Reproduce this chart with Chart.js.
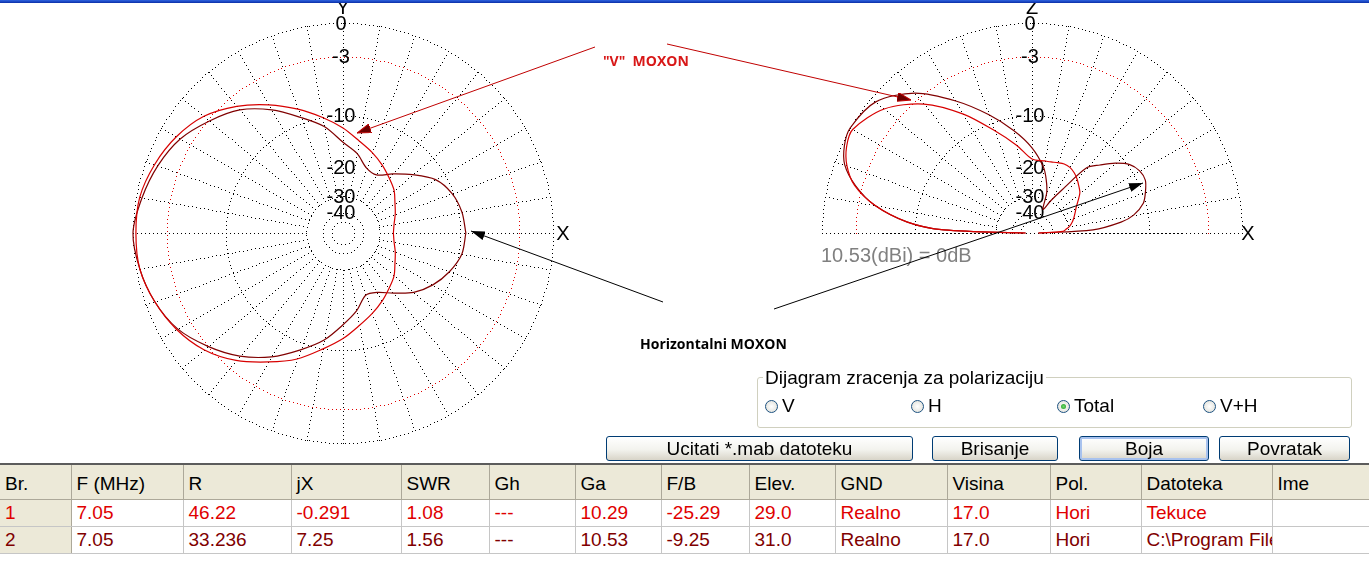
<!DOCTYPE html>
<html>
<head>
<meta charset="utf-8">
<title>Dijagram zracenja - MOXON</title>
<script src="https://cdn.jsdelivr.net/npm/chart.js@4.4.1/dist/chart.umd.min.js"></script>
<style>
  body { margin: 0; width: 1369px; height: 562px; overflow: hidden; background: #fff; position: relative;
         font-family: "Liberation Sans", Arial, sans-serif; }
  #topbar { position: absolute; left: 0; top: 0; width: 1369px; height: 3px; z-index: 10;
            background: linear-gradient(#2f64e0, #0a2fa8); }
  .polar { position: absolute; top: 0; width: 520px; height: 460px; }
  #azWrap { left: 83px; }
  #elWrap { left: 772px; }
  #notes { position: absolute; left: 0; top: 0; width: 1369px; height: 460px; z-index: 5; pointer-events: none; }
  #group { position: absolute; left: 757px; top: 377px; width: 595px; height: 51px; box-sizing: border-box;
           border: 1px solid #d0d0bf; border-radius: 3px; }
  #groupTitle { position: absolute; left: 763px; top: 367px; padding: 0 2px; background: #fff; font-size: 19px; line-height: 22px; }
  .radio { position: absolute; top: 396px; height: 20px; font-size: 19px; line-height: 20px; white-space: nowrap; }
  .radio i { display: inline-block; width: 11px; height: 11px; border: 1px solid #1c5180; border-radius: 50%;
             background: radial-gradient(#ffffff, #dcdcd4); vertical-align: -1px; margin-right: 4px; position: relative; }
  .radio i.on::after { content: ""; position: absolute; left: 3px; top: 3px; width: 5px; height: 5px; border-radius: 50%;
             background: radial-gradient(#6fd86f, #1d9a1d); }
  .btn { position: absolute; top: 436px; height: 25px; box-sizing: border-box; border: 1px solid #003c74; border-radius: 3px;
         background: linear-gradient(#ffffff, #f3f3ee 55%, #d8d4c8); font-size: 19px; line-height: 23px; text-align: center; }
  .btn.focus { box-shadow: inset 0 0 0 2px #a8c2ee; }
  #tbl { position: absolute; left: 0; top: 463px; width: 1369px; border-top: 2px solid #5c5c5c; }
  table { border-collapse: collapse; table-layout: fixed; width: 1369px; font-size: 19px; }
  th { height: 30px; padding: 4px 0 0 5px; background: #ece9d8; font-weight: normal; text-align: left;
       border-right: 1px solid #aca899; border-bottom: 1px solid #aca899; }
  td { height: 26px; padding: 0 0 0 5px; border-right: 1px solid #c6c6c6; border-bottom: 1px solid #c6c6c6;
       white-space: nowrap; overflow: hidden; }
  td.rh { background: #ece9d8; border-right: 1px solid #aca899; }
  tr.r1 td { color: #e00000; }
  tr.r2 td { color: #800000; }
</style>
</head>
<body>
<div id="topbar"></div>
<div class="polar" id="azWrap"><canvas id="azChart" width="520" height="460"></canvas></div>
<div class="polar" id="elWrap"><canvas id="elChart" width="520" height="460"></canvas></div>

<svg id="notes" xmlns="http://www.w3.org/2000/svg">
  <defs>
    <marker id="headRed" markerUnits="userSpaceOnUse" markerWidth="14" markerHeight="9" refX="14" refY="4.5" orient="auto">
      <path d="M0,0 L14,4.5 L0,9 z" fill="#6a0000" stroke="#c00000" stroke-width="1"/>
    </marker>
    <marker id="headBlack" markerUnits="userSpaceOnUse" markerWidth="14" markerHeight="9" refX="14" refY="4.5" orient="auto">
      <path d="M0,0 L14,4.5 L0,9 z" fill="#000"/>
    </marker>
  </defs>
  <line x1="595" y1="47" x2="357" y2="133" stroke="#c00000" stroke-width="1" marker-end="url(#headRed)"/>
  <line x1="667" y1="44" x2="911" y2="100" stroke="#c00000" stroke-width="1" marker-end="url(#headRed)"/>
  <line x1="663" y1="302" x2="471" y2="231" stroke="#000" stroke-width="1" marker-end="url(#headBlack)"/>
  <line x1="774" y1="309" x2="1143" y2="183" stroke="#000" stroke-width="1" marker-end="url(#headBlack)"/>
  <text x="603" y="66" font-family="Open Sans, Lato, sans-serif" font-weight="bold" font-size="14" fill="#d81818" xml:space="preserve">"V"  MOXON</text>
  <text x="640" y="349" font-family="Open Sans, Lato, sans-serif" font-weight="bold" font-size="14" fill="#000">Horizontalni MOXON</text>
</svg>

<div id="group"></div>
<div id="groupTitle">Dijagram zracenja za polarizaciju</div>
<div class="radio" style="left:765px"><i></i>V</div>
<div class="radio" style="left:911px"><i></i>H</div>
<div class="radio" style="left:1057px"><i class="on"></i>Total</div>
<div class="radio" style="left:1203px"><i></i>V+H</div>

<div class="btn" style="left:606px;width:307px">Ucitati *.mab datoteku</div>
<div class="btn" style="left:932px;width:126px">Brisanje</div>
<div class="btn focus" style="left:1079px;width:130px">Boja</div>
<div class="btn" style="left:1219px;width:131px">Povratak</div>

<div id="tbl"></div>

<script>
// ---- data (dB relative to 10.53 dBi) ----
// azimuth angle, degrees counter-clockwise from +X
const azAngles = [0, 10, 20, 30, 40, 50, 60, 70, 80, 90, 100, 110, 120, 130, 140, 150, 160, 170,
                  180, 190, 200, 210, 220, 230, 240, 250, 260, 270, 280, 290, 300, 310, 320, 330, 340, 350];
const azVMoxon = [-24.5, -24.0, -22.8, -21.5, -19.7, -18.4, -16.9, -15.4, -13.9, -11.9, -10.0, -8.0, -6.0, -4.1, -2.5, -1.5, -0.8, -0.3,
                  -0.24, -0.3, -0.8, -1.5, -2.5, -4.0, -5.9, -7.7, -9.9, -11.8, -13.8, -15.4, -16.9, -18.4, -19.7, -21.5, -22.8, -24.0];
const azHorizMoxon = [-9.2, -9.5, -10.2, -11.6, -14.4, -17.2, -19.6, -19.1, -16.4, -14.4, -11.4, -9.2, -6.7, -4.6, -3.2, -1.9, -1.1, -0.5,
                      0, -0.3, -0.8, -1.6, -3.0, -4.6, -6.6, -9.0, -11.3, -14.2, -16.8, -19.8, -19.2, -16.9, -14.1, -12.1, -10.6, -9.5];

// elevation angle, degrees from the +X horizon over the top to the -X horizon
const elAngles = [0, 3, 7, 10, 15, 20, 25, 30, 35, 40, 45, 50, 55, 60, 65, 70, 75, 80,
                  90, 100, 110, 120, 130, 140, 150, 155, 160, 165, 170, 175, 178, 180];
const elVMoxon = [-60, -32.7, -30.8, -29.3, -27.8, -26.6, -25.5, -24.3, -22.6, -20.8, -19.8, -18.8, -18.0, -17.5, -17.4, -17.7, -18.0, -18.1,
                  -17.9, -14.7, -11.3, -7.3, -3.8, -1.45, -0.24, -0.45, -1.1, -2.3, -4.7, -8.9, -14.9, -60];
const elHorizMoxon = [-60, -21.2, -14.6, -12.2, -10.3, -9.5, -8.9, -9.0, -9.7, -11.3, -13.4, -15.5, -23.6, -29.8, -35.8, -27.2, -23.0, -19.7,
                      -15.5, -12.1, -8.8, -5.5, -2.4, -0.5, 0, -0.25, -0.9, -2.4, -4.7, -8.9, -14.9, -60];

const ringLevels = [0, -3, -10, -30, -40, -50];
const ringLabels = [0, -3, -10, -20, -30, -40];
const zeroRef = '10.53(dBi) = 0dB';

const tableHeaders = ['Br.', 'F (MHz)', 'R', 'jX', 'SWR', 'Gh', 'Ga', 'F/B', 'Elev.', 'GND', 'Visina', 'Pol.', 'Datoteka', 'Ime'];
const row1 = ['1', '7.05', '46.22', '-0.291', '1.08', '---', '10.29', '-25.29', '29.0', 'Realno', '17.0', 'Hori', 'Tekuce', ''];
const row2 = ['2', '7.05', '33.236', '7.25', '1.56', '---', '10.53', '-9.25', '31.0', 'Realno', '17.0', 'Hori', 'C:\\Program Files', ''];

const RED = '#d80000';
const DARK = '#800000';

// ---- layout ----
const R_PX = 210;             // 0 dB circle radius
const CX = 260, CY = 233;     // plot centre inside each canvas
const DOT_GAP = 4;            // GDI style dotted grid
const colWidths = [71, 112, 108, 110, 88, 86, 86, 88, 86, 112, 103, 91, 131, 97];

// ARRL log scale
function dbToRadius(db) {
  return Math.pow(0.89, -db / 2);
}

function toXY(angles, gains) {
  return angles.map((a, i) => {
    const r = dbToRadius(gains[i]);
    const t = a * Math.PI / 180;
    return { x: r * Math.cos(t), y: r * Math.sin(t) };
  });
}

// single pixel dots, like the old windows dotted pen
function dotLine(ctx, x1, y1, x2, y2) {
  const len = Math.hypot(x2 - x1, y2 - y1);
  const n = Math.floor(len / DOT_GAP);
  for (let i = 0; i <= n; i++) {
    const f = n ? i / n : 0;
    ctx.fillRect(Math.round(x1 + (x2 - x1) * f), Math.round(y1 + (y2 - y1) * f), 1, 1);
  }
}

function dotArc(ctx, cx, cy, r, a0, a1) {
  const n = Math.max(8, Math.round(r * (a1 - a0) / DOT_GAP));
  for (let i = 0; i <= n; i++) {
    const t = a0 + (a1 - a0) * i / n;
    ctx.fillRect(Math.round(cx + r * Math.cos(t)), Math.round(cy - r * Math.sin(t)), 1, 1);
  }
}

const polarGrid = {
  id: 'polarGrid',
  beforeDatasetsDraw(chart, args, opts) {
    const { ctx } = chart;
    const xs = chart.scales.x, ys = chart.scales.y;
    const cx = Math.round(xs.getPixelForValue(0));
    const cy = Math.round(ys.getPixelForValue(0));
    const R = xs.getPixelForValue(1) - xs.getPixelForValue(0);
    const top = opts.half ? Math.PI : 2 * Math.PI;
    ctx.save();

    ringLevels.forEach(db => {
      ctx.fillStyle = db === -3 ? '#e00000' : '#000';
      dotArc(ctx, cx, cy, R * dbToRadius(db), 0, top);
    });

    ctx.fillStyle = '#000';
    const r0 = R * dbToRadius(-30);
    const last = opts.half ? 180 : 350;
    for (let a = 0; a <= last; a += 10) {
      const t = a * Math.PI / 180;
      dotLine(ctx, cx + r0 * Math.cos(t), cy - r0 * Math.sin(t), cx + R * Math.cos(t), cy - R * Math.sin(t));
    }
    if (opts.half) dotLine(ctx, cx - R, cy, cx + R, cy);

    // level labels
    ctx.font = '20px "Liberation Sans", Arial, sans-serif';
    ctx.textAlign = 'center';
    ctx.textBaseline = 'middle';
    ringLabels.forEach(db => {
      ctx.fillText(String(db), cx - 2, cy - R * dbToRadius(db) + 1);
    });
    ctx.fillText(opts.vertical, cx, cy - R - 15);
    ctx.fillText('X', cx + R + opts.xGap, cy + 1);

    if (opts.note) {
      ctx.fillStyle = '#808080';
      ctx.textAlign = 'left';
      ctx.fillText(opts.note, cx - R - 1, cy + 23);
    }
    ctx.restore();
  }
};

function curve(points, color) {
  return {
    data: points,
    showLine: true,
    borderColor: color,
    borderWidth: 1.2,
    pointRadius: 0,
    tension: 0.3,
    fill: false
  };
}

function makePolar(canvasId, datasets, opts) {
  const canvas = document.getElementById(canvasId);
  const W = canvas.width, H = canvas.height;
  return new Chart(canvas, {
    type: 'scatter',
    data: { datasets: datasets },
    options: {
      responsive: false,
      animation: false,
      events: [],
      layout: { padding: 0, autoPadding: false },
      scales: {
        x: { type: 'linear', display: false, min: -CX / R_PX, max: (W - CX) / R_PX },
        y: { type: 'linear', display: false, min: -(H - CY) / R_PX, max: CY / R_PX }
      },
      plugins: {
        legend: { display: false },
        tooltip: { enabled: false },
        polarGrid: opts
      }
    },
    plugins: [polarGrid]
  });
}

// azimuth: closed curves
const azV = toXY(azAngles, azVMoxon);
azV.push(azV[0]);
const azH = toXY(azAngles, azHorizMoxon);
azH.push(azH[0]);

makePolar('azChart', [curve(azV, RED), curve(azH, DARK)], { half: false, vertical: 'Y', xGap: 10 });
makePolar('elChart', [curve(toXY(elAngles, elVMoxon), RED), curve(toXY(elAngles, elHorizMoxon), DARK)],
          { half: true, vertical: 'Z', xGap: 6, note: zeroRef });

// ---- results table ----
function buildTable() {
  let html = '<table><colgroup>' + colWidths.map(w => '<col style="width:' + w + 'px">').join('') + '</colgroup>';
  html += '<tr>' + tableHeaders.map(h => '<th>' + h + '</th>').join('') + '</tr>';
  [row1, row2].forEach((row, k) => {
    html += '<tr class="r' + (k + 1) + '">' + row.map((v, i) => '<td' + (i === 0 ? ' class="rh"' : '') + '>' + v + '</td>').join('') + '</tr>';
  });
  html += '</table>';
  document.getElementById('tbl').innerHTML = html;
}
buildTable();
</script>
</body>
</html>
